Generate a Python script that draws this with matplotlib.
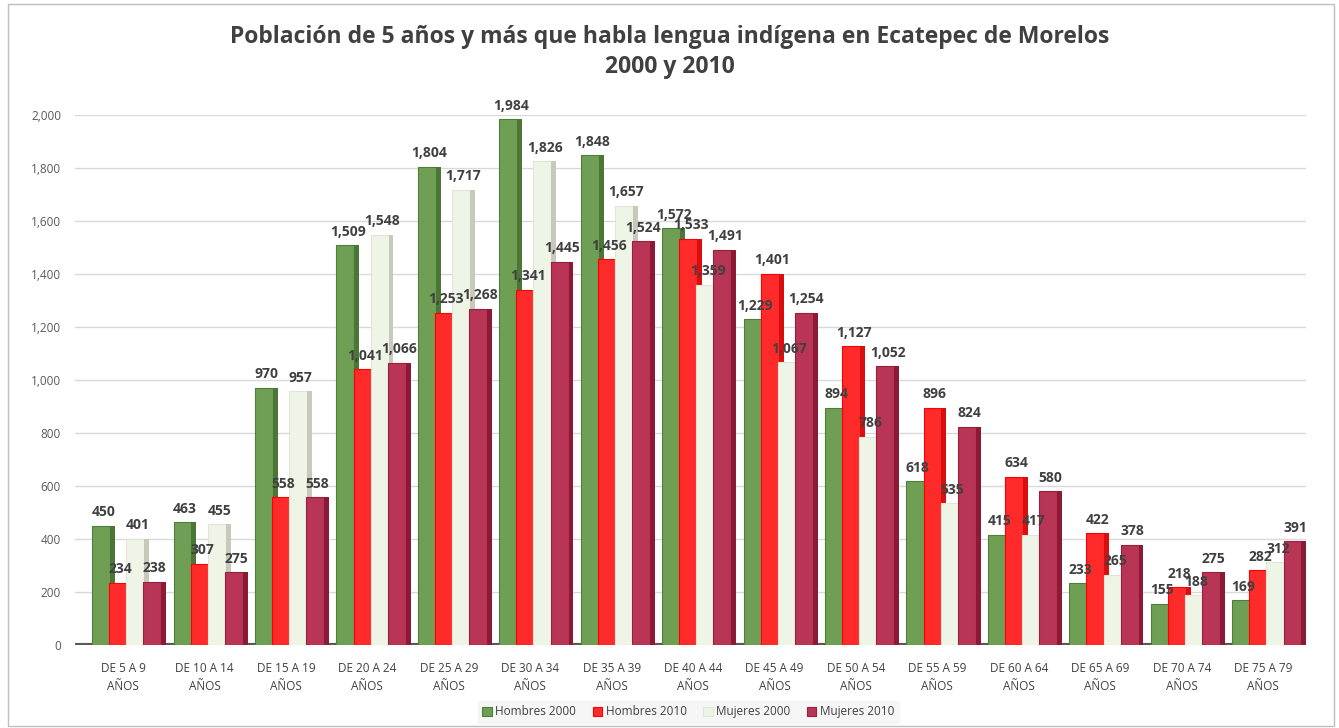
import matplotlib
matplotlib.use("Agg")
import matplotlib.pyplot as plt
import numpy as np
from matplotlib.patches import Rectangle

categories = ["DE 5 A 9\nAÑOS", "DE 10 A 14\nAÑOS", "DE 15 A 19\nAÑOS", "DE 20 A 24\nAÑOS",
              "DE 25 A 29\nAÑOS", "DE 30 A 34\nAÑOS", "DE 35 A 39\nAÑOS", "DE 40 A 44\nAÑOS",
              "DE 45 A 49\nAÑOS", "DE 50 A 54\nAÑOS", "DE 55 A 59\nAÑOS", "DE 60 A 64\nAÑOS",
              "DE 65 A 69\nAÑOS", "DE 70 A 74\nAÑOS", "DE 75 A 79\nAÑOS"]
hombres_2000 = [450, 463, 970, 1509, 1804, 1984, 1848, 1572, 1229, 894, 618, 415, 233, 155, 169]
hombres_2010 = [234, 307, 558, 1041, 1253, 1341, 1456, 1533, 1401, 1127, 896, 634, 422, 218, 282]
mujeres_2000 = [401, 455, 957, 1548, 1717, 1826, 1657, 1359, 1067, 786, 535, 417, 265, 188, 312]
mujeres_2010 = [238, 275, 558, 1066, 1268, 1445, 1524, 1491, 1254, 1052, 824, 580, 378, 275, 391]
series_names = ["Hombres 2000", "Hombres 2010", "Mujeres 2000", "Mujeres 2010"]

plt.rcParams['font.family'] = ['Open Sans', 'DejaVu Sans']

fig = plt.figure(figsize=(13.39, 7.28), dpi=100)
ax = fig.add_axes([0.056, 0.114, 0.919, 0.728])

front = ["#6f9e55", "#ff2b2b", "#eef4e6", "#b83556"]
side = ["#4c7636", "#d90e0e", "#c9c9bb", "#8c1a36"]
edge = ["#4f7d3a", "#ff0000", "#dfe6d6", "#9a1f3d"]

data = [hombres_2000, hombres_2010, mujeres_2000, mujeres_2010]
x = np.arange(len(categories))
offsets = [-0.27, -0.06, 0.15, 0.36]
fw = 0.22
sw = 0.06

for i, vals in enumerate(data):
    xs = x + offsets[i]
    ax.bar(xs, vals, width=fw, color=front[i], edgecolor=edge[i], linewidth=0.8,
           zorder=3 + i, label=series_names[i])
    ax.bar(xs + fw / 2 + sw / 2, vals, width=sw, color=side[i], linewidth=0,
           zorder=3 + i)
    for xi, v in zip(xs, vals):
        ax.text(xi + 0.03, v + 25, f"{v:,}", ha="center", va="bottom", fontsize=10,
                fontweight="bold", color="#404040", zorder=10, clip_on=False)

ax.set_ylim(0, 2000)
ax.set_xlim(-0.59, 14.52)
ax.set_yticks(range(0, 2001, 200))
ax.set_yticklabels([f"{v:,}" for v in range(0, 2001, 200)], fontsize=8.5, color="#595959")
ax.set_xticks(x)
ax.set_xticklabels(categories, fontsize=8.5, color="#404040", linespacing=1.5)
ax.tick_params(length=0, pad=10)
ax.tick_params(axis="x", pad=12)
ax.yaxis.grid(True, color="#d9d9d9", linewidth=1, zorder=0)
ax.set_axisbelow(True)
for s in ax.spines.values():
    s.set_visible(False)
ax.axhline(0, color="#595959", linewidth=3, zorder=2)

fig.text(0.5, 0.965, "Población de 5 años y más que habla lengua indígena en Ecatepec de Morelos\n2000 y 2010",
         ha="center", va="top", fontsize=16.5, fontweight="bold", color="#404040", linespacing=1.3)

leg = fig.legend(loc="center", bbox_to_anchor=(0.514, 0.022), ncol=4, frameon=True,
                 fontsize=8.5, handlelength=0.8, handleheight=0.8, handletextpad=0.3,
                 columnspacing=1.4, borderpad=0.4)
leg.get_frame().set_facecolor("#f4f4f4")
leg.get_frame().set_edgecolor("#f4f4f4")
for t in leg.get_texts():
    t.set_color("#404040")

fig.patches.append(Rectangle((0.006, 0.003), 0.99, 0.992, transform=fig.transFigure,
                             fill=False, edgecolor="#bfbfbf", linewidth=1))

fig.savefig("out.png", dpi=100)
